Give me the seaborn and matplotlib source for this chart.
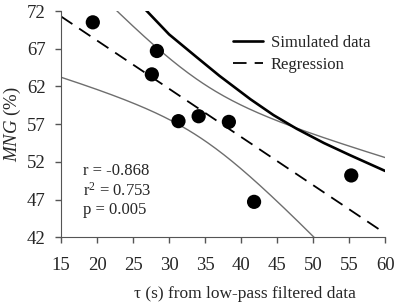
import numpy as np
import pandas as pd
import matplotlib
matplotlib.use("Agg")
import matplotlib.pyplot as plt
import seaborn as sns

# measured points: tau (s) from low-pass filtered data vs MNG (%)
tau = [19.4, 28.3, 27.6, 31.3, 34.1, 38.3, 41.8, 55.3]
mng = [70.5, 66.7, 63.6, 57.4, 58.05, 57.3, 46.7, 50.2]

# simulated data curve
sim_tau = [26.7, 30, 33.8, 37, 41.3, 44.5, 47.7, 51.5, 55.1, 60]
sim_mng = [72.2, 68.9, 65.9, 63.4, 60.3, 58.2, 56.4, 54.5, 52.9, 50.8]

stats_text = "r = -0.868\nr$^2$ = 0.753\np = 0.005"

sns.set_style("ticks")
plt.rcParams['font.family'] = ['Liberation Serif', 'DejaVu Serif']
plt.rcParams['mathtext.fontset'] = 'custom'
plt.rcParams['mathtext.rm'] = 'Liberation Serif'
plt.rcParams['mathtext.it'] = 'Liberation Serif:italic'

df = pd.DataFrame({"tau": tau, "mng": mng})
sim = pd.DataFrame({"tau": sim_tau, "mng": sim_mng})

# least squares fit and 95% confidence band of the mean
x = np.array(tau)
y = np.array(mng)
n = len(x)
slope, intercept = np.polyfit(x, y, 1)
resid = y - (slope * x + intercept)
s = np.sqrt(np.sum(resid ** 2) / (n - 2))
sxx = np.sum((x - x.mean()) ** 2)
t_crit = 2.447  # t(0.975, df=6)
xg = np.linspace(15, 60, 200)
yg = slope * xg + intercept
half = t_crit * s * np.sqrt(1 / n + (xg - x.mean()) ** 2 / sxx)
fit = pd.DataFrame({"tau": xg, "fit": yg, "lo": yg - half, "hi": yg + half})

fig, ax = plt.subplots(figsize=(3.97, 3.06), dpi=100)
fig.subplots_adjust(left=0.154, right=0.970, bottom=0.2245, top=0.964)

sns.lineplot(data=fit, x="tau", y="lo", ax=ax, color="#6e6e6e", lw=1.0)
sns.lineplot(data=fit, x="tau", y="hi", ax=ax, color="#6e6e6e", lw=1.0)
sns.lineplot(data=sim, x="tau", y="mng", ax=ax, color="black", lw=1.9,
             label="Simulated data", sort=False)
sns.lineplot(data=fit, x="tau", y="fit", ax=ax, color="black", lw=1.3,
             dashes=False, label="Regression")
ax.lines[-1].set_dashes([7.5, 4.5])
sns.scatterplot(data=df, x="tau", y="mng", ax=ax, color="black", s=105,
                edgecolor="none", zorder=5)

ax.set_xlim(15, 60)
ax.set_ylim(42, 72)
ax.set_xticks(range(15, 61, 5))
ax.set_yticks(range(42, 73, 5))
ax.tick_params(labelsize=13.5, length=4, width=1, color="#555555")
ax.tick_params(axis="x", pad=10)
ax.tick_params(axis="y", pad=7)
for sp in ["left", "bottom"]:
    ax.spines[sp].set_color("#555555")
sns.despine(ax=ax)

ax.set_xlabel("τ (s) from low-pass filtered data", fontsize=12.5)
ax.xaxis.set_label_coords(0.568, -0.215)
ax.set_ylabel(r"$\mathit{MNG}$ (%)", fontsize=13.5, labelpad=3)

ax.text(0.068, 0.33, stats_text, transform=ax.transAxes, fontsize=12,
        va="top", ha="left", linespacing=1.2)

ax.legend(loc="upper left", bbox_to_anchor=(0.505, 0.93), frameon=False,
          fontsize=12, handlelength=1.8, handletextpad=0.45, borderpad=0,
          labelspacing=0.35)

fig.savefig("out.png", dpi=100)
